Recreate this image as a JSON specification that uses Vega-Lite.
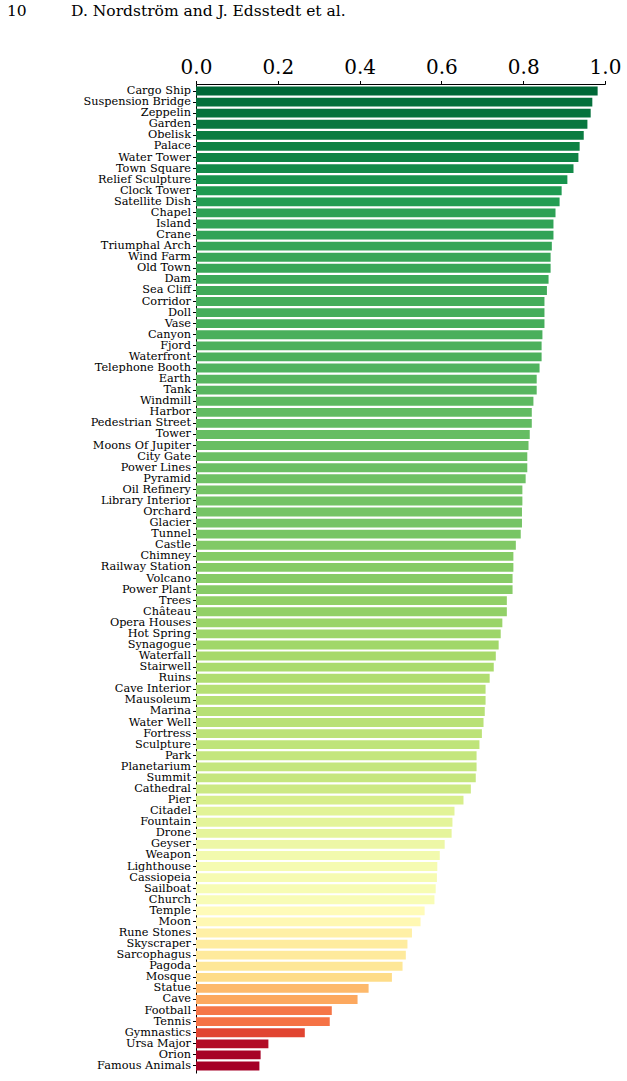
{
  "$schema": "https://vega.github.io/schema/vega-lite/v6.json",
  "autosize": {"type": "none"},
  "width": 409,
  "height": 989,
  "padding": {"left": 196, "top": 84, "right": 22, "bottom": 8},
  "background": "white",
  "title": {
    "text": "10\u00a0\u00a0\u00a0\u00a0\u00a0\u00a0\u00a0\u00a0\u00a0D. Nordström and J. Edsstedt et al.",
    "anchor": "start",
    "frame": "group",
    "dx": -189,
    "offset": 26,
    "baseline": "alphabetic",
    "font": "DejaVu Serif",
    "fontSize": 15.5,
    "fontWeight": "normal",
    "color": "#000000"
  },
  "data": {
    "values": [
      {"category": "Cargo Ship", "score": 0.982},
      {"category": "Suspension Bridge", "score": 0.969},
      {"category": "Zeppelin", "score": 0.965},
      {"category": "Garden", "score": 0.957},
      {"category": "Obelisk", "score": 0.948},
      {"category": "Palace", "score": 0.938},
      {"category": "Water Tower", "score": 0.935},
      {"category": "Town Square", "score": 0.923},
      {"category": "Relief Sculpture", "score": 0.908},
      {"category": "Clock Tower", "score": 0.894},
      {"category": "Satellite Dish", "score": 0.889},
      {"category": "Chapel", "score": 0.879},
      {"category": "Island", "score": 0.874},
      {"category": "Crane", "score": 0.874},
      {"category": "Triumphal Arch", "score": 0.870},
      {"category": "Wind Farm", "score": 0.867},
      {"category": "Old Town", "score": 0.867},
      {"category": "Dam", "score": 0.862},
      {"category": "Sea Cliff", "score": 0.858},
      {"category": "Corridor", "score": 0.852},
      {"category": "Doll", "score": 0.852},
      {"category": "Vase", "score": 0.852},
      {"category": "Canyon", "score": 0.847},
      {"category": "Fjord", "score": 0.845},
      {"category": "Waterfront", "score": 0.845},
      {"category": "Telephone Booth", "score": 0.840},
      {"category": "Earth", "score": 0.833},
      {"category": "Tank", "score": 0.833},
      {"category": "Windmill", "score": 0.825},
      {"category": "Harbor", "score": 0.821},
      {"category": "Pedestrian Street", "score": 0.821},
      {"category": "Tower", "score": 0.816},
      {"category": "Moons Of Jupiter", "score": 0.813},
      {"category": "City Gate", "score": 0.810},
      {"category": "Power Lines", "score": 0.810},
      {"category": "Pyramid", "score": 0.806},
      {"category": "Oil Refinery", "score": 0.798},
      {"category": "Library Interior", "score": 0.798},
      {"category": "Orchard", "score": 0.797},
      {"category": "Glacier", "score": 0.797},
      {"category": "Tunnel", "score": 0.794},
      {"category": "Castle", "score": 0.782},
      {"category": "Chimney", "score": 0.776},
      {"category": "Railway Station", "score": 0.776},
      {"category": "Volcano", "score": 0.774},
      {"category": "Power Plant", "score": 0.774},
      {"category": "Trees", "score": 0.760},
      {"category": "Château", "score": 0.760},
      {"category": "Opera Houses", "score": 0.749},
      {"category": "Hot Spring", "score": 0.745},
      {"category": "Synagogue", "score": 0.740},
      {"category": "Waterfall", "score": 0.733},
      {"category": "Stairwell", "score": 0.728},
      {"category": "Ruins", "score": 0.718},
      {"category": "Cave Interior", "score": 0.708},
      {"category": "Mausoleum", "score": 0.708},
      {"category": "Marina", "score": 0.706},
      {"category": "Water Well", "score": 0.703},
      {"category": "Fortress", "score": 0.699},
      {"category": "Sculpture", "score": 0.693},
      {"category": "Park", "score": 0.686},
      {"category": "Planetarium", "score": 0.686},
      {"category": "Summit", "score": 0.684},
      {"category": "Cathedral", "score": 0.672},
      {"category": "Pier", "score": 0.654},
      {"category": "Citadel", "score": 0.632},
      {"category": "Fountain", "score": 0.627},
      {"category": "Drone", "score": 0.625},
      {"category": "Geyser", "score": 0.608},
      {"category": "Weapon", "score": 0.596},
      {"category": "Lighthouse", "score": 0.590},
      {"category": "Cassiopeia", "score": 0.589},
      {"category": "Sailboat", "score": 0.586},
      {"category": "Church", "score": 0.583},
      {"category": "Temple", "score": 0.559},
      {"category": "Moon", "score": 0.549},
      {"category": "Rune Stones", "score": 0.528},
      {"category": "Skyscraper", "score": 0.517},
      {"category": "Sarcophagus", "score": 0.513},
      {"category": "Pagoda", "score": 0.505},
      {"category": "Mosque", "score": 0.479},
      {"category": "Statue", "score": 0.422},
      {"category": "Cave", "score": 0.395},
      {"category": "Football", "score": 0.332},
      {"category": "Tennis", "score": 0.327},
      {"category": "Gymnastics", "score": 0.266},
      {"category": "Ursa Major", "score": 0.177},
      {"category": "Orion", "score": 0.158},
      {"category": "Famous Animals", "score": 0.155}
    ]
  },
  "mark": {"type": "bar"},
  "encoding": {
    "y": {
      "field": "category",
      "type": "nominal",
      "sort": null,
      "scale": {"paddingInner": 0.2, "paddingOuter": 0.235},
      "axis": {
        "title": null,
        "labelFont": "DejaVu Serif",
        "labelFontSize": 11.3,
        "labelColor": "#000000",
        "labelPadding": 2,
        "tickSize": 3.5,
        "tickColor": "#000000",
        "domainColor": "#000000",
        "domainWidth": 1,
        "labelLimit": 300
      }
    },
    "x": {
      "field": "score",
      "type": "quantitative",
      "scale": {"domain": [0, 1], "nice": false},
      "axis": {
        "orient": "top",
        "title": null,
        "values": [0, 0.2, 0.4, 0.6, 0.8, 1.0],
        "format": ".1f",
        "grid": false,
        "labelFont": "DejaVu Serif",
        "labelFontSize": 20,
        "labelColor": "#000000",
        "labelPadding": 3,
        "labelFlush": false,
        "tickSize": 3.5,
        "tickColor": "#000000",
        "domainColor": "#000000",
        "domainWidth": 1
      }
    },
    "color": {
      "field": "score",
      "type": "quantitative",
      "legend": null,
      "scale": {
        "domain": [0.155, 0.2377, 0.3204, 0.4031, 0.4858, 0.5685, 0.6512, 0.7339, 0.8166, 0.8993, 0.982],
        "range": ["#a50026", "#d73027", "#f46d43", "#fdae61", "#fee08b", "#ffffbf", "#d9ef8b", "#a6d96a", "#66bd63", "#1a9850", "#006837"],
        "interpolate": "rgb"
      }
    }
  },
  "config": {
    "view": {"stroke": null}
  }
}
